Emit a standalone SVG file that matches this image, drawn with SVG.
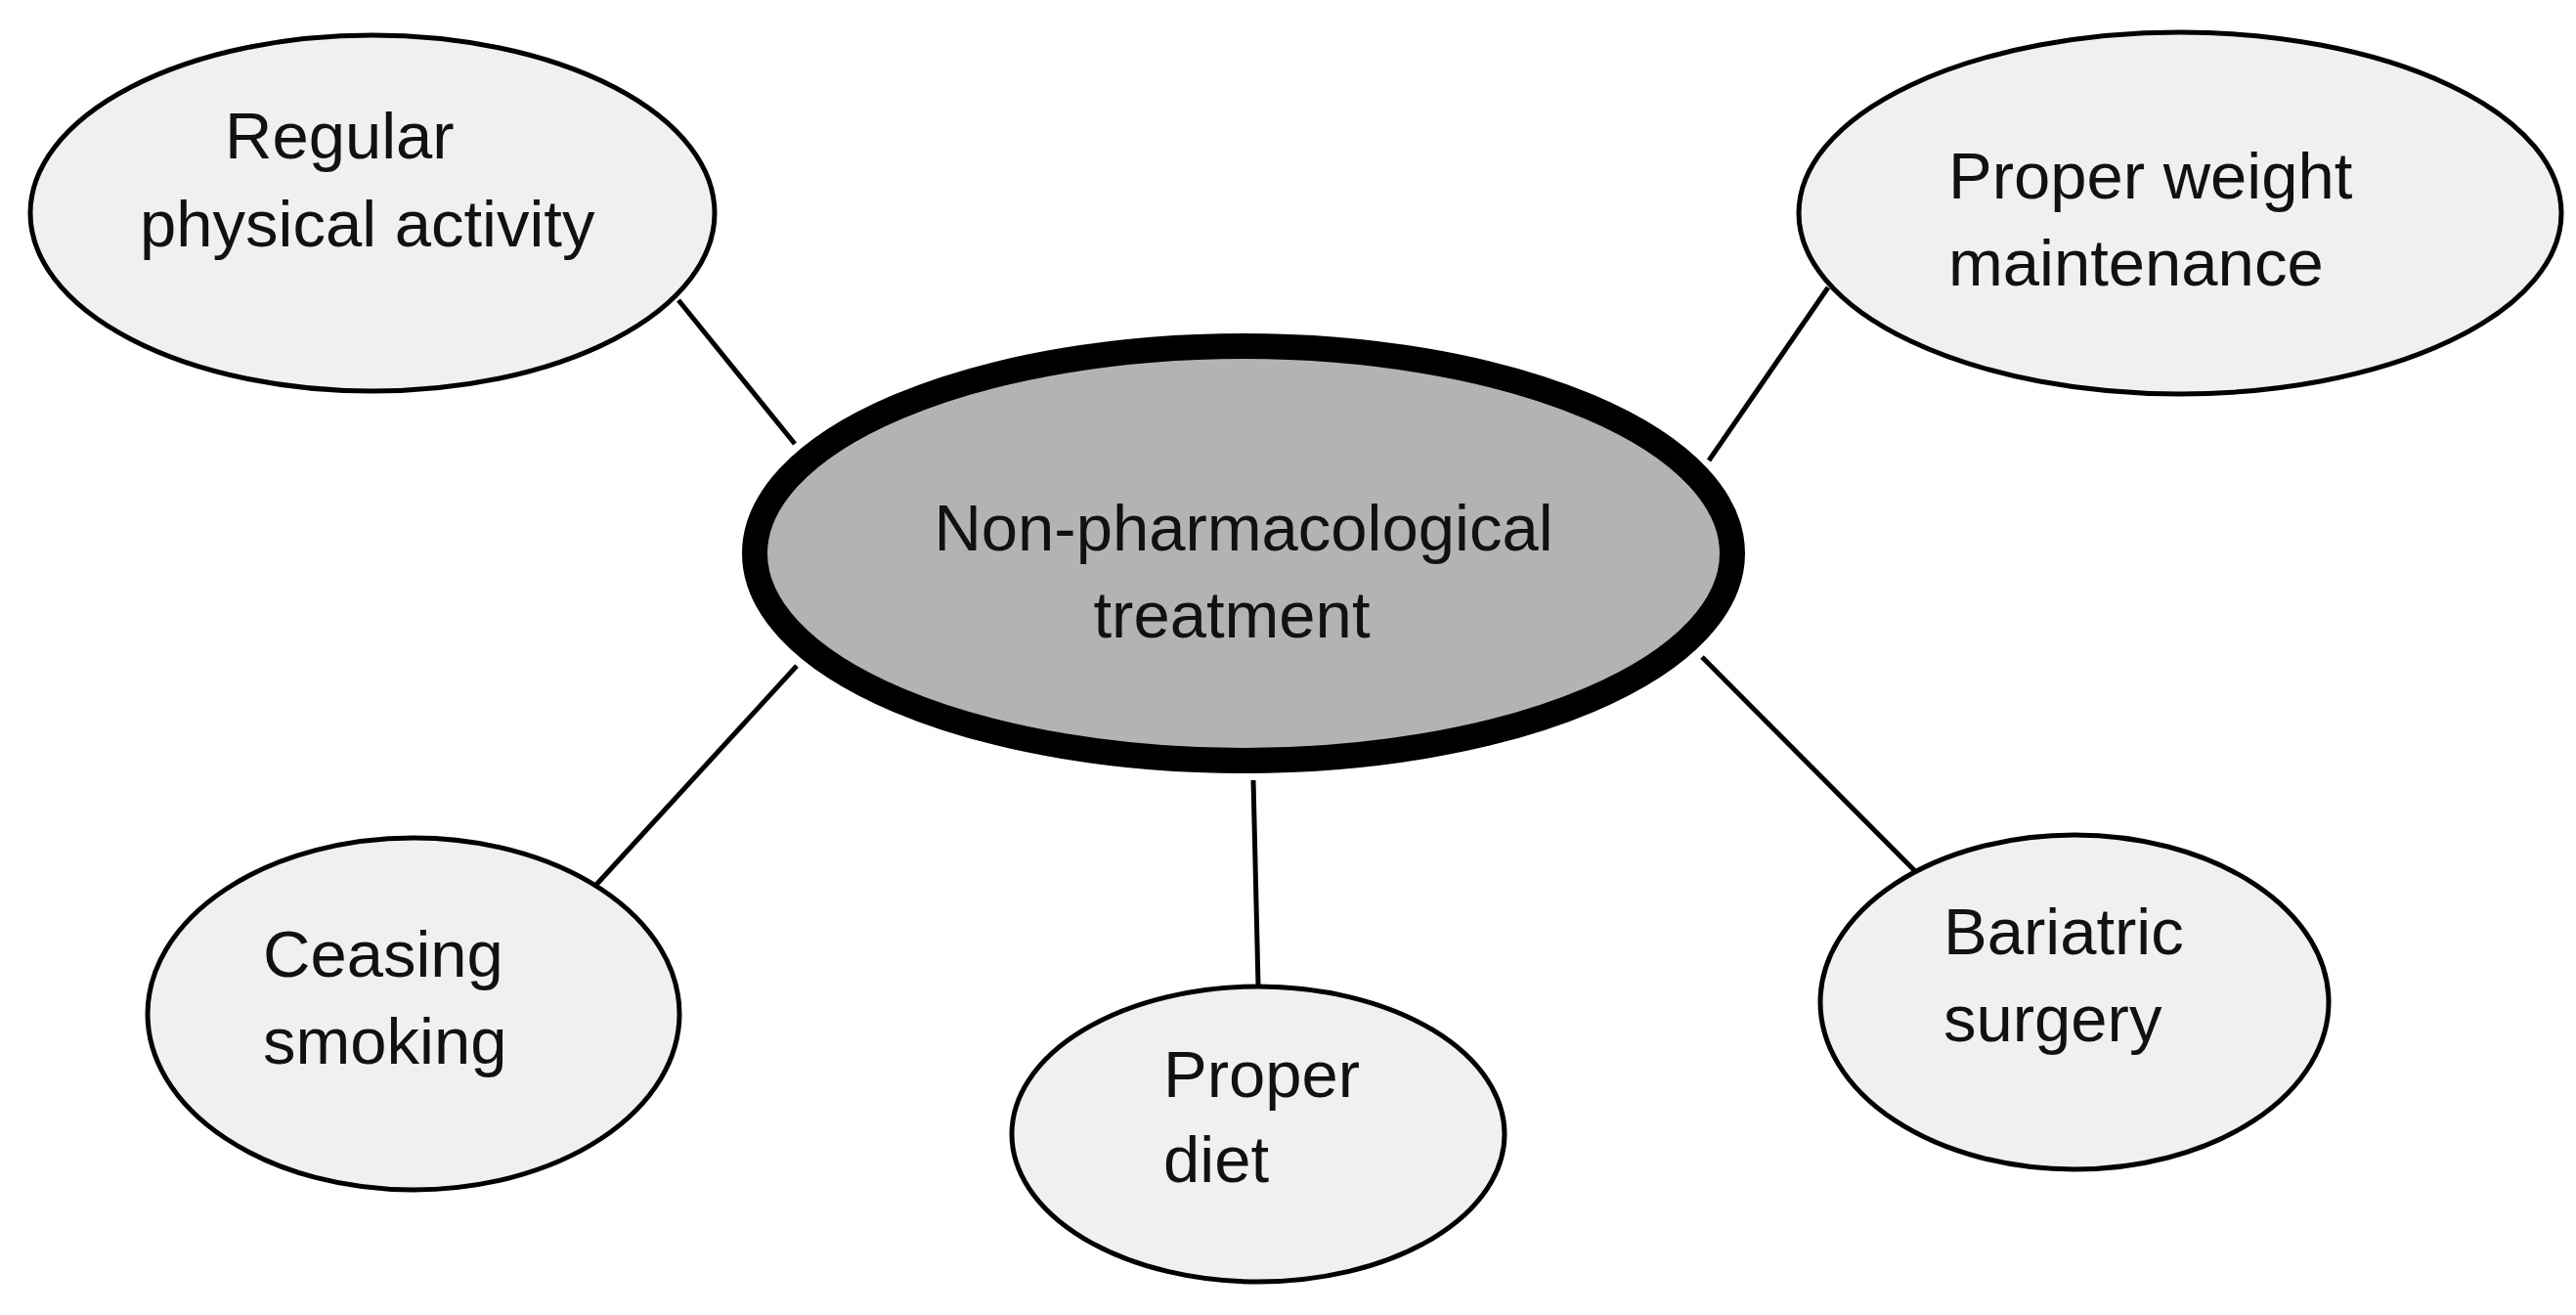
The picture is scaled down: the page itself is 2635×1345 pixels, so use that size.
<svg xmlns="http://www.w3.org/2000/svg" width="2635" height="1345" viewBox="0 0 2635 1345">
<style>
.n{fill:#f0f0f0;stroke:#000;stroke-width:5}
.c{fill:#b3b3b3;stroke:#000;stroke-width:26}
text{font-family:"Liberation Sans",Arial,sans-serif;font-size:67px;fill:#111}
.e line{stroke:#000;stroke-width:5}
</style>
<rect width="2635" height="1345" fill="#fff"/>
<g class="e" id="connectors">
<line x1="694" y1="307" x2="813" y2="454"/>
<line x1="1870" y1="294" x2="1748" y2="471"/>
<line x1="815" y1="681" x2="608" y2="907"/>
<line x1="1282" y1="798" x2="1287" y2="1008"/>
<line x1="1741" y1="672" x2="1959" y2="891"/>
</g>
<g id="center"><ellipse class="c" cx="1272" cy="566" rx="500" ry="212"/>
<text x="1272" y="563" text-anchor="middle">Non-pharmacological</text>
<text x="1260" y="652" text-anchor="middle">treatment</text></g>
<g id="activity"><ellipse class="n" cx="381" cy="218" rx="350" ry="182"/>
<text x="230" y="162">Regular</text><text x="143" y="252">physical activity</text></g>
<g id="weight"><ellipse class="n" cx="2230" cy="218" rx="390" ry="185"/>
<text x="1993" y="203">Proper weight</text><text x="1993" y="292">maintenance</text></g>
<g id="smoking"><ellipse class="n" cx="423" cy="1037" rx="272" ry="180"/>
<text x="269" y="999">Ceasing</text><text x="269" y="1088">smoking</text></g>
<g id="diet"><ellipse class="n" cx="1287" cy="1160" rx="252" ry="151"/>
<text x="1190" y="1122">Proper</text><text x="1190" y="1209">diet</text></g>
<g id="bariatric"><ellipse class="n" cx="2122" cy="1025" rx="260" ry="171"/>
<text x="1988" y="976">Bariatric</text><text x="1988" y="1065">surgery</text></g>
</svg>
